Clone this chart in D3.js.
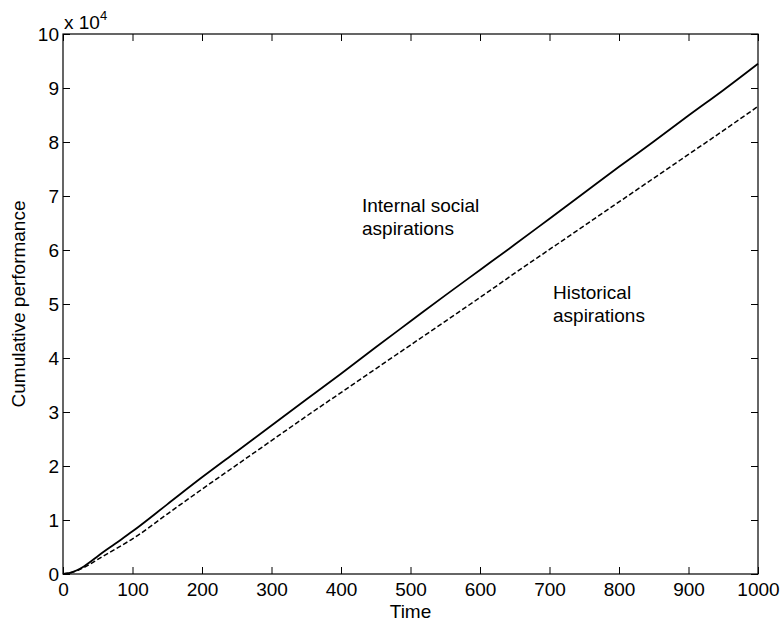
<!DOCTYPE html>
<html>
<head>
<meta charset="utf-8">
<script src="https://cdn.jsdelivr.net/npm/d3@7"></script>
<style>
  body { margin: 0; background: #fff; }
  text { font-family: Arial, "Liberation Sans", Helvetica, sans-serif; }
</style>
</head>
<body>
<div id="chart"></div>
<script>
// values (cumulative performance in units of 10^4)
const timeSteps = [0, 10, 20, 30, 40, 50, 75, 100, 150, 200, 250, 300, 350, 400, 450, 500, 550, 600, 650, 700, 750, 800, 850, 900, 950, 1000];
const internalSocial = [0, 0.02, 0.07, 0.14, 0.23, 0.33, 0.56, 0.79, 1.29, 1.79, 2.27, 2.75, 3.23, 3.71, 4.2, 4.68, 5.16, 5.63, 6.1, 6.58, 7.06, 7.54, 8.01, 8.49, 8.96, 9.45];
const historical = [0, 0.02, 0.06, 0.12, 0.19, 0.27, 0.46, 0.65, 1.11, 1.57, 2.02, 2.47, 2.92, 3.36, 3.8, 4.24, 4.68, 5.12, 5.57, 6.01, 6.45, 6.89, 7.33, 7.77, 8.21, 8.66];
const xTicks = [0, 100, 200, 300, 400, 500, 600, 700, 800, 900, 1000];
const yTicks = [0, 1, 2, 3, 4, 5, 6, 7, 8, 9, 10];

const W = 781, H = 622;
const margin = { top: 34, right: 23, bottom: 48, left: 63 };
const width = W - margin.left - margin.right,
    height = H - margin.top - margin.bottom;
const fontSize = 19;

let svg = d3.select("#chart")
    .append("svg")
    .attr("width", W)
    .attr("height", H);
let g = svg.append("g")
    .attr("transform", "translate(" + margin.left + "," + margin.top + ")");

let x = d3.scaleLinear().domain([0, 1000]).range([0, width]);
let y = d3.scaleLinear().domain([0, 10]).range([height, 0]);

// axes, ticks pointing inwards on all four sides (box on)
g.append("g")
    .attr("transform", "translate(0," + height + ")")
    .call(d3.axisBottom(x).tickValues(xTicks).tickFormat(d3.format("d"))
        .tickSizeInner(-7).tickSizeOuter(0).tickPadding(9));
g.append("g")
    .call(d3.axisTop(x).tickValues(xTicks).tickSizeInner(-7).tickSizeOuter(0).tickFormat(""));
g.append("g")
    .call(d3.axisLeft(y).tickValues(yTicks).tickFormat(d3.format("d"))
        .tickSizeInner(-7).tickSizeOuter(0).tickPadding(4));
g.append("g")
    .attr("transform", "translate(" + width + ",0)")
    .call(d3.axisRight(y).tickValues(yTicks).tickSizeInner(-7).tickSizeOuter(0).tickFormat(""));

g.selectAll(".domain").remove();
g.append("rect")
    .attr("width", width)
    .attr("height", height)
    .attr("fill", "none")
    .attr("stroke", "#000")
    .attr("stroke-width", 1.2);
g.selectAll(".tick line").attr("stroke", "#000").attr("stroke-width", 1);
g.selectAll(".tick text")
    .attr("fill", "#000")
    .style("font-size", fontSize + "px")
    .style("font-family", "Arial, 'Liberation Sans', sans-serif");

// lines
let line = d3.line()
    .curve(d3.curveMonotoneX)
    .x(function (d) { return x(d[0]); })
    .y(function (d) { return y(d[1]); });

g.append("path")
    .datum(timeSteps.map(function (t, i) { return [t, historical[i]]; }))
    .attr("d", line)
    .attr("fill", "none")
    .attr("stroke", "#000")
    .attr("stroke-width", 1.5)
    .attr("stroke-dasharray", "5,2.5");

g.append("path")
    .datum(timeSteps.map(function (t, i) { return [t, internalSocial[i]]; }))
    .attr("d", line)
    .attr("fill", "none")
    .attr("stroke", "#000")
    .attr("stroke-width", 1.8);

// annotations
let note = function (px, py, lines) {
    let t = svg.append("text")
        .attr("x", px)
        .attr("y", py)
        .style("font-size", fontSize + "px");
    lines.forEach(function (s, i) {
        t.append("tspan").attr("x", px).attr("dy", i === 0 ? 0 : 23).text(s);
    });
};
note(362, 212, ["Internal social", "aspirations"]);
note(553, 299, ["Historical", "aspirations"]);

// exponent label
let expo = svg.append("text")
    .attr("x", margin.left + 1)
    .attr("y", 29)
    .style("font-size", fontSize + "px");
expo.append("tspan").text("x 10");
expo.append("tspan").attr("dy", -9).style("font-size", "13px").text("4");

// axis labels
svg.append("text")
    .attr("x", margin.left + width / 2)
    .attr("y", 618)
    .attr("text-anchor", "middle")
    .style("font-size", fontSize + "px")
    .text("Time");
svg.append("text")
    .attr("transform", "translate(25," + (margin.top + height / 2) + ") rotate(-90)")
    .attr("text-anchor", "middle")
    .style("font-size", fontSize + "px")
    .text("Cumulative performance");
</script>
</body>
</html>
